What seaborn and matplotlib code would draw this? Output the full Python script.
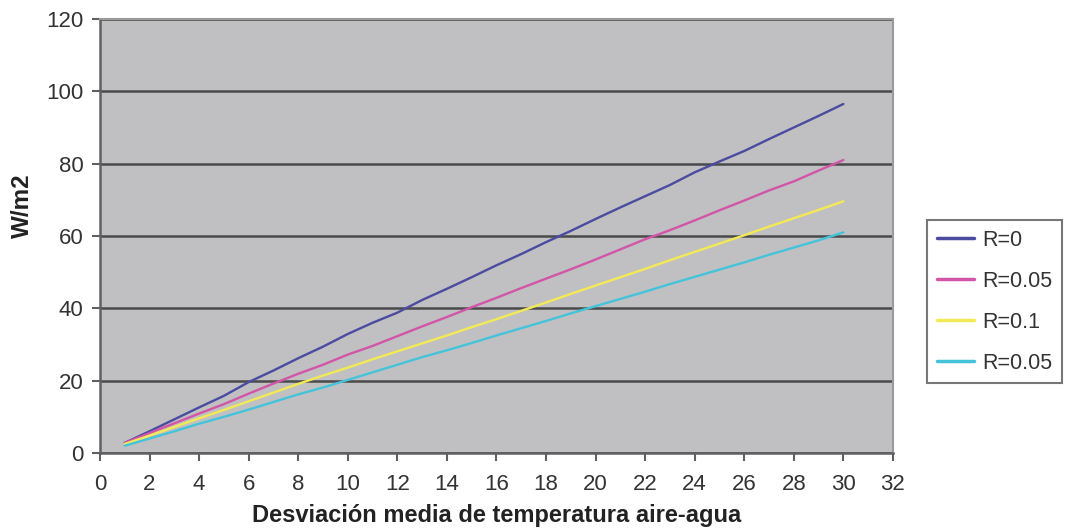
import matplotlib
matplotlib.use("Agg")
import matplotlib.pyplot as plt
import seaborn as sns

# datos
x = list(range(1, 31))
r0 = [2.8, 6.0, 9.3, 12.6, 15.8, 19.6, 22.8, 26.2, 29.4, 32.9,
      36.0, 38.8, 42.3, 45.4, 48.6, 51.9, 55.0, 58.3, 61.4, 64.7,
      67.9, 71.0, 74.1, 77.6, 80.6, 83.5, 86.8, 90.0, 93.2, 96.5]
r005 = [2.8, 5.5, 8.2, 10.9, 13.5, 16.4, 19.2, 21.9, 24.4, 27.2,
        29.6, 32.3, 35.0, 37.6, 40.3, 42.9, 45.6, 48.2, 50.8, 53.5,
        56.3, 59.1, 61.6, 64.3, 67.1, 69.8, 72.6, 75.1, 78.1, 81.0]
r01 = [2.5, 4.8, 7.2, 9.6, 11.9, 14.3, 16.7, 19.1, 21.4, 23.6,
       25.9, 28.1, 30.3, 32.5, 34.8, 37.0, 39.3, 41.6, 44.0, 46.3,
       48.6, 50.9, 53.3, 55.6, 57.9, 60.2, 62.6, 64.9, 67.2, 69.6]
r005b = [2.0, 4.0, 6.0, 8.1, 10.0, 12.0, 14.1, 16.2, 18.1, 20.2,
         22.3, 24.4, 26.5, 28.4, 30.4, 32.5, 34.5, 36.5, 38.6, 40.6,
         42.6, 44.6, 46.7, 48.7, 50.7, 52.7, 54.8, 56.8, 58.8, 61.0]

series = [("R=0", r0, "#4b4ba0"),
          ("R=0.05", r005, "#d255a8"),
          ("R=0.1", r01, "#f2ea55"),
          ("R=0.05", r005b, "#45c3da")]

sns.set_style("white")
plt.rcParams['font.family'] = ['Liberation Sans', 'DejaVu Sans']

fig = plt.figure(figsize=(10.68, 5.30), dpi=100)
ax = fig.add_axes([0.0936, 0.1453, 0.7425, 0.8189])
ax.set_facecolor("#c0c0c2")

for lab, vals, col in series:
    sns.lineplot(x=x, y=vals, ax=ax, color=col, linewidth=1.7, label=lab, legend=False)

ax.set_xlim(0, 32)
ax.set_ylim(0, 120)
ax.set_xticks(range(0, 33, 2))
ax.set_yticks(range(0, 121, 20))
ax.yaxis.grid(True, color="#4a4a4a", linewidth=1.8)
ax.set_axisbelow(True)

for s in ["left", "bottom"]:
    ax.spines[s].set_color("#606060")
    ax.spines[s].set_linewidth(1.8)
for s in ["top", "right"]:
    ax.spines[s].set_color("#9a9a9a")
    ax.spines[s].set_linewidth(1.5)

ax.tick_params(axis="both", direction="out", length=6, width=1.5, color="#606060",
               labelsize=16, labelcolor="#333333", bottom=True, left=True)
ax.tick_params(axis="x", pad=9)
ax.tick_params(axis="y", pad=6)

ax.set_xlabel("Desviación media de temperatura aire-agua", fontsize=17,
              fontweight="bold", color="#222222", va="top")
ax.xaxis.set_label_coords(0.5, -0.118)
ax.set_ylabel("W/m2", fontsize=17.5, fontweight="bold", color="#222222", va="center")
ax.yaxis.set_label_coords(-0.098, 0.569)

handles, labels = ax.get_legend_handles_labels()
leg = fig.legend(handles, labels, loc="upper left", bbox_to_anchor=(0.868, 0.585),
                 fontsize=15.5, frameon=True, fancybox=False, handlelength=1.75,
                 handletextpad=0.35, labelspacing=0.93, borderpad=0.45, borderaxespad=0)
leg.get_frame().set_edgecolor("#555555")
leg.get_frame().set_linewidth(1.5)
for l in leg.get_lines():
    l.set_linewidth(2.5)
for t in leg.get_texts():
    t.set_color("#333333")

fig.savefig("out.png", dpi=100)
